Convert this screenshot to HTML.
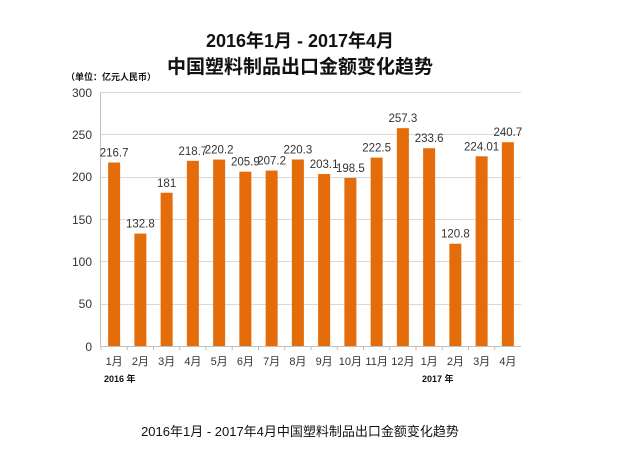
<!DOCTYPE html>
<html><head><meta charset="utf-8"><style>
body{margin:0;background:#fff;}
svg text{font-family:"Liberation Sans","Noto Sans CJK SC",sans-serif;}
</style></head><body>
<svg width="617" height="449" viewBox="0 0 617 449" xmlns="http://www.w3.org/2000/svg">
<rect width="617" height="449" fill="#fff"/>
<text x="300" y="47" font-size="18" font-weight="bold" text-anchor="middle" fill="#111">2016年1月 - 2017年4月</text>
<text x="300" y="73" font-size="19" font-weight="bold" text-anchor="middle" fill="#111">中国塑料制品出口金额变化趋势</text>
<text x="66" y="80" font-size="9" font-weight="bold" fill="#111">（单位：亿元人民币）</text>
<g stroke="#d9d9d9" stroke-width="1">
<line x1="101" x2="521" y1="92.5" y2="92.5"/>
<line x1="101" x2="521" y1="134.5" y2="134.5"/>
<line x1="101" x2="521" y1="177.5" y2="177.5"/>
<line x1="101" x2="521" y1="219.5" y2="219.5"/>
<line x1="101" x2="521" y1="261.5" y2="261.5"/>
<line x1="101" x2="521" y1="304.5" y2="304.5"/>
</g>
<line x1="101" x2="521" y1="346.5" y2="346.5" stroke="#bfbfbf"/>
<line x1="100.5" x2="100.5" y1="92" y2="346" stroke="#bfbfbf"/>
<g font-size="12" fill="#333" text-anchor="end">
<text x="92" y="97">300</text><text x="92" y="139">250</text><text x="92" y="181">200</text>
<text x="92" y="224">150</text><text x="92" y="266">100</text><text x="92" y="308">50</text><text x="92" y="351">0</text>
</g>
<g id="bars" fill="#e46c0a"></g>
<g id="lbl" font-size="11.5" fill="#333" text-anchor="middle"></g>
<g id="mon" font-size="11" fill="#333" text-anchor="middle"></g>
<text x="104" y="382" font-size="9" font-weight="bold" fill="#111">2016 年</text>
<text x="422" y="382" font-size="9" font-weight="bold" fill="#111">2017 年</text>
<text x="300" y="436" font-size="13" text-anchor="middle" fill="#111">2016年1月 - 2017年4月中国塑料制品出口金额变化趋势</text>
<script>
var v=[216.7,132.8,181,218.7,220.2,205.9,207.2,220.3,203.1,198.5,222.5,257.3,233.6,120.8,224.01,240.7];
var m=["1月","2月","3月","4月","5月","6月","7月","8月","9月","10月","11月","12月","1月","2月","3月","4月"];
var ns="http://www.w3.org/2000/svg",b=document.getElementById("bars"),l=document.getElementById("lbl"),mo=document.getElementById("mon");
var w=26.25;
for(var i=0;i<16;i++){var cx=101+w*(i+0.5),y=346-v[i]*254/300;
var r=document.createElementNS(ns,"rect");r.setAttribute("x",cx-6);r.setAttribute("y",y);r.setAttribute("width",12);r.setAttribute("height",346-y);b.appendChild(r);
var t=document.createElementNS(ns,"text");t.setAttribute("x",cx);t.setAttribute("y",y-6);t.textContent=v[i];l.appendChild(t);
var t2=document.createElementNS(ns,"text");t2.setAttribute("x",cx);t2.setAttribute("y",365);t2.textContent=m[i];mo.appendChild(t2);
var k=document.createElementNS(ns,"line");k.setAttribute("x1",101+w*i);k.setAttribute("x2",101+w*i);k.setAttribute("y1",346);k.setAttribute("y2",350);k.setAttribute("stroke","#bfbfbf");b.parentNode.appendChild(k);}
</script>
</svg>
</body></html>
